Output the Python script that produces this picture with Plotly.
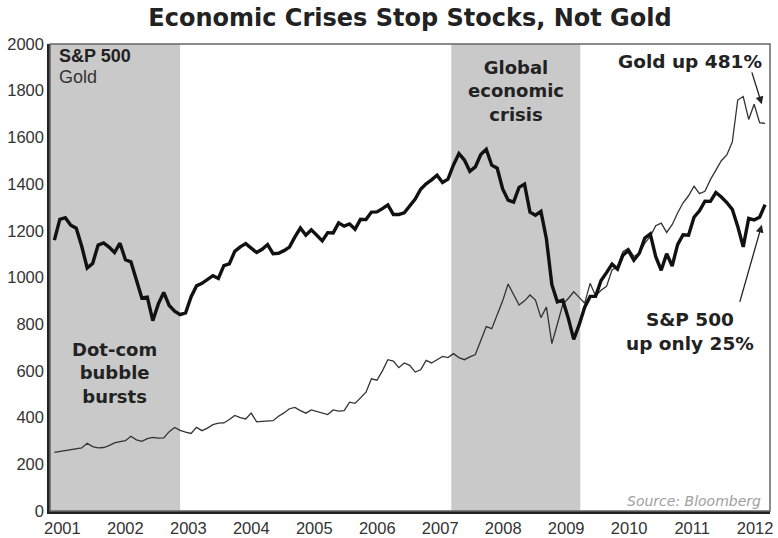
import pandas as pd
import plotly.graph_objects as go

# monthly points, Mar 2001 .. Jan 2012
months = pd.date_range('2001-03-01', periods=131, freq='MS')

sp500 = [
    1160, 1249, 1256, 1224, 1211, 1134, 1041, 1060, 1139, 1148,
    1130, 1107, 1147, 1076, 1067, 990, 912, 916, 815, 886, 936, 880,
    856, 841, 848, 917, 964, 975, 990, 1008, 996, 1051, 1058, 1112,
    1131, 1145, 1126, 1107, 1121, 1141, 1102, 1104, 1115, 1130, 1174, 1212,
    1181, 1204, 1181, 1157, 1192, 1191, 1234, 1220, 1229, 1207, 1249, 1248,
    1280, 1281, 1295, 1311, 1270, 1270, 1277, 1304, 1336, 1378, 1401, 1418,
    1438, 1407, 1421, 1482, 1531, 1503, 1455, 1474, 1527, 1549, 1481, 1468,
    1379, 1331, 1323, 1386, 1400, 1280, 1267, 1283, 1166, 969, 896, 903,
    826, 735, 798, 873, 919, 919, 987, 1021, 1057, 1036, 1096, 1115,
    1074, 1104, 1169, 1187, 1089, 1031, 1102, 1049, 1141, 1183, 1181, 1258,
    1286, 1327, 1326, 1364, 1345, 1321, 1292, 1219, 1131, 1253, 1247, 1258,
    1312,
]

gold = [
    251, 255, 258, 262, 265, 270, 290, 276, 270, 272,
    280, 292, 297, 301, 320, 305, 298, 310, 315, 312, 313, 340,
    358, 345, 338, 332, 358, 344, 355, 370, 376, 377, 392, 409,
    400, 394, 419, 382, 384, 386, 387, 406, 420, 438, 444, 430,
    419, 433, 426, 420, 413, 433, 428, 430, 466, 461, 485, 509,
    566, 560, 600, 648, 642, 614, 634, 624, 595, 605, 645, 634,
    648, 662, 657, 674, 657, 648, 660, 670, 730, 790, 781, 840,
    900, 972, 930, 882, 900, 925, 903, 828, 874, 717, 800, 885,
    910, 939, 915, 890, 975, 921, 945, 962, 1032, 1047, 1111, 1126,
    1090, 1104, 1147, 1176, 1222, 1233, 1193, 1226, 1276, 1320, 1350, 1391,
    1359, 1369, 1419, 1460, 1500, 1525, 1580, 1760, 1775, 1677, 1742, 1663,
    1660,
]

years = [str(y) for y in range(2001, 2013)]
# crisis periods, in month index from Mar 2001
crises = [(-0.8, 23.0), (72.6, 96.2)]

x = list(range(len(months)))
tick_pos = [1.46 + 11.52 * i for i in range(len(years))]

fig = go.Figure()

for start, end in crises:
    fig.add_vrect(x0=start, x1=end, fillcolor='#c9c9c9', line_width=0, layer='below')

fig.add_trace(go.Scatter(
    x=x, y=gold, mode='lines', name='Gold',
    line=dict(color='#333333', width=1.3),
    customdata=months.strftime('%b %Y'),
    hovertemplate='%{customdata}: %{y}<extra>Gold</extra>'
))
fig.add_trace(go.Scatter(
    x=x, y=sp500, mode='lines', name='S&P 500',
    line=dict(color='#111111', width=3.4),
    customdata=months.strftime('%b %Y'),
    hovertemplate='%{customdata}: %{y}<extra>S&P 500</extra>'
))

bold = dict(family='DejaVu Sans', size=18, color='#222222')

fig.add_annotation(x=0.5, y=1948, text='<b>S&P 500</b>', showarrow=False, xanchor='left',
                   font=dict(family='Liberation Sans', size=18, color='#222222'))
fig.add_annotation(x=0.5, y=1858, text='Gold', showarrow=False, xanchor='left',
                   font=dict(family='Liberation Sans', size=18, color='#333333'))
fig.add_annotation(x=11, y=589, text='<b>Dot-com<br>bubble<br>bursts</b>', showarrow=False, font=bold)
fig.add_annotation(x=84.5, y=1800, text='<b>Global<br>economic<br>crisis</b>', showarrow=False, font=bold)
fig.add_annotation(x=129.8, y=1927, text='<b>Gold up 481%</b>', showarrow=False, xanchor='right',
                   font=dict(family='DejaVu Sans', size=18.5, color='#222222'))
fig.add_annotation(x=116.3, y=770, text='<b>S&P 500<br>up only 25%</b>', showarrow=False,
                   font=dict(family='DejaVu Sans', size=18.5, color='#222222'))
fig.add_annotation(x=129.6, y=43, text='<i>Source: Bloomberg</i>', showarrow=False, xanchor='right',
                   font=dict(family='DejaVu Sans', size=14, color='#a0a0a0'))

# arrows
fig.add_annotation(x=129.4, y=1742, ax=127.5, ay=1885, axref='x', ayref='y', text='',
                   showarrow=True, arrowhead=2, arrowsize=1.2, arrowwidth=1.3, arrowcolor='#222222')
fig.add_annotation(x=129.4, y=1226, ax=125.3, ay=889, axref='x', ayref='y', text='',
                   showarrow=True, arrowhead=2, arrowsize=1.2, arrowwidth=1.3, arrowcolor='#222222')

# plot frame
fig.add_shape(type='rect', xref='paper', yref='paper', x0=0, y0=0, x1=1, y1=1,
              line=dict(color='#666666', width=1.5))

fig.update_layout(
    width=778, height=538,
    title=dict(text='<b>Economic Crises Stop Stocks, Not Gold</b>', xref='paper', x=0.5,
               xanchor='center', y=0.968, yanchor='middle',
               font=dict(family='DejaVu Sans', size=24, color='#222222')),
    showlegend=False,
    plot_bgcolor='white', paper_bgcolor='white',
    margin=dict(t=44, l=50, r=8, b=27, autoexpand=False),
    xaxis=dict(range=[-0.8, 130.9], tickvals=tick_pos, ticktext=years, showgrid=False,
               zeroline=False, showline=True, linecolor='#222222', linewidth=2.5, ticks='',
               tickfont=dict(family='Liberation Sans', size=16.5, color='#333333')),
    yaxis=dict(range=[0, 2000], dtick=200, showgrid=False, zeroline=False,
               showline=True, linecolor='#222222', linewidth=2.5, ticks='',
               tickfont=dict(family='Liberation Sans', size=16.5, color='#333333')),
)

# drop the default body margin so the figure sits at the window's corner
fig.write_html('out.html', config={'displayModeBar': False},
               post_script="document.body.style.margin='0';")
